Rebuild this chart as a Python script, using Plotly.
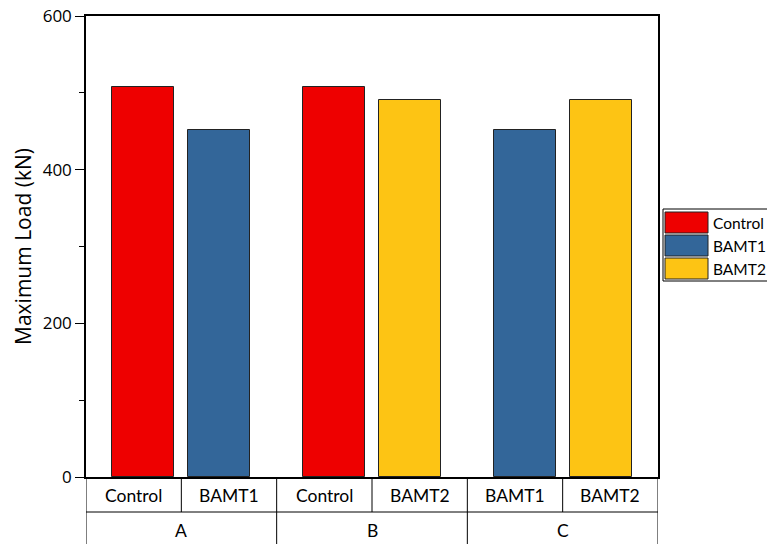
import plotly.graph_objects as go

# Groups along the x axis and the two samples tested in each group
groups = ["A", "B", "C"]
group_samples = [["Control", "BAMT1"], ["Control", "BAMT2"], ["BAMT1", "BAMT2"]]

# Maximum load (kN) for each series, listed in the groups where it appears
control_load = [508, 508]   # groups A, B
bamt1_load = [452, 452]     # groups A, C
bamt2_load = [491, 491]     # groups B, C

series_names = ["Control", "BAMT1", "BAMT2"]
series_values = [control_load, bamt1_load, bamt2_load]
series_colors = ["#EE0000", "#336699", "#FDC414"]

y_ticks = [0, 200, 400, 600]

# Figure geometry (pixels)
W, H = 767, 544
M_L, M_R, M_T, M_B = 86, 109, 16, 67
PLOT_W = W - M_L - M_R
PLOT_H = H - M_T - M_B


def px_x(p):
    return (p - M_L) / PLOT_W


def px_y(p):
    return (H - M_B - p) / PLOT_H


# Each group spans two table cells; the pair of bars sits either side of the group middle
bar_offset = 0.4
bar_width = 0.65
outline = dict(color="#222222", width=1)

fig = go.Figure()
for name, vals, color in zip(series_names, series_values, series_colors):
    xs = []
    for gi, samples in enumerate(group_samples):
        if name in samples:
            side = -1 if samples.index(name) == 0 else 1
            xs.append(gi * 2 + 1 + side * bar_offset)
    fig.add_trace(go.Bar(
        x=xs, y=vals, name=name, width=bar_width, showlegend=False,
        marker=dict(color=color, line=outline),
    ))

table_font = dict(family="Lato, Open Sans, sans-serif", size=17.5, color="black")
row1_bottom = px_y(512)
table_bottom = -0.25
line_style = dict(color="black", width=1)

shapes = []
# Sample row: cell dividers
n_cells = sum(len(s) for s in group_samples)
for i in range(n_cells + 1):
    shapes.append(dict(type="line", xref="x", yref="paper", x0=i, x1=i,
                       y0=0, y1=row1_bottom, line=line_style))
shapes.append(dict(type="line", xref="x", yref="paper", x0=0, x1=n_cells,
                   y0=row1_bottom, y1=row1_bottom, line=line_style))
# Group row: dividers between groups
for gi in range(len(groups) + 1):
    shapes.append(dict(type="line", xref="x", yref="paper", x0=gi * 2, x1=gi * 2,
                       y0=row1_bottom, y1=table_bottom, line=line_style))

annotations = []
ci = 0
for gi, samples in enumerate(group_samples):
    for s in samples:
        annotations.append(dict(x=ci + 0.5, y=px_y(495), xref="x", yref="paper",
                                text=s, showarrow=False, font=table_font,
                                xanchor="center", yanchor="middle"))
        ci += 1
    annotations.append(dict(x=gi * 2 + 1, y=px_y(530), xref="x", yref="paper",
                            text=groups[gi], showarrow=False, font=table_font,
                            xanchor="center", yanchor="middle"))

# Legend box with wide colour swatches (runs off the right edge of the page)
legend_font = dict(family="Lato, Open Sans, sans-serif", size=15.5, color="black")
shapes.append(dict(type="rect", xref="paper", yref="paper",
                   x0=px_x(663), x1=px_x(775), y0=px_y(281), y1=px_y(209),
                   line=dict(color="black", width=1), fillcolor="white", layer="below"))
row_top, row_h = 212, 23
for k, (name, color) in enumerate(zip(series_names, series_colors)):
    top = row_top + k * row_h
    shapes.append(dict(type="rect", xref="paper", yref="paper",
                       x0=px_x(665), x1=px_x(708), y0=px_y(top + 21), y1=px_y(top),
                       line=outline, fillcolor=color))
    annotations.append(dict(x=px_x(711), y=px_y(top + 10.5), xref="paper", yref="paper",
                            text=name, showarrow=False, font=legend_font,
                            xanchor="left", yanchor="middle"))

fig.update_layout(
    width=W, height=H,
    margin=dict(l=M_L, r=M_R, t=M_T, b=M_B),
    plot_bgcolor="white", paper_bgcolor="white",
    barmode="overlay",
    bargap=0,
    shapes=shapes,
    annotations=annotations,
    showlegend=False,
    xaxis=dict(
        range=[0, n_cells], showticklabels=False, ticks="",
        showgrid=False, zeroline=False, automargin=False,
        showline=True, mirror=True, linecolor="black", linewidth=1.5,
    ),
    yaxis=dict(
        range=[0, 600], tickvals=y_ticks, ticks="outside", ticklen=9,
        tickcolor="black", tickwidth=1.2, automargin=False,
        minor=dict(dtick=100, tick0=0, ticks="outside", ticklen=5, tickcolor="black"),
        showgrid=False, zeroline=False,
        showline=True, mirror=True, linecolor="black", linewidth=1.5,
        tickfont=dict(family="Open Sans, sans-serif", size=17, color="black"),
        title=dict(text="Maximum Load (kN)", standoff=5,
                   font=dict(family="Open Sans, sans-serif", size=21, color="black")),
    ),
)

fig.write_html("out.html")
